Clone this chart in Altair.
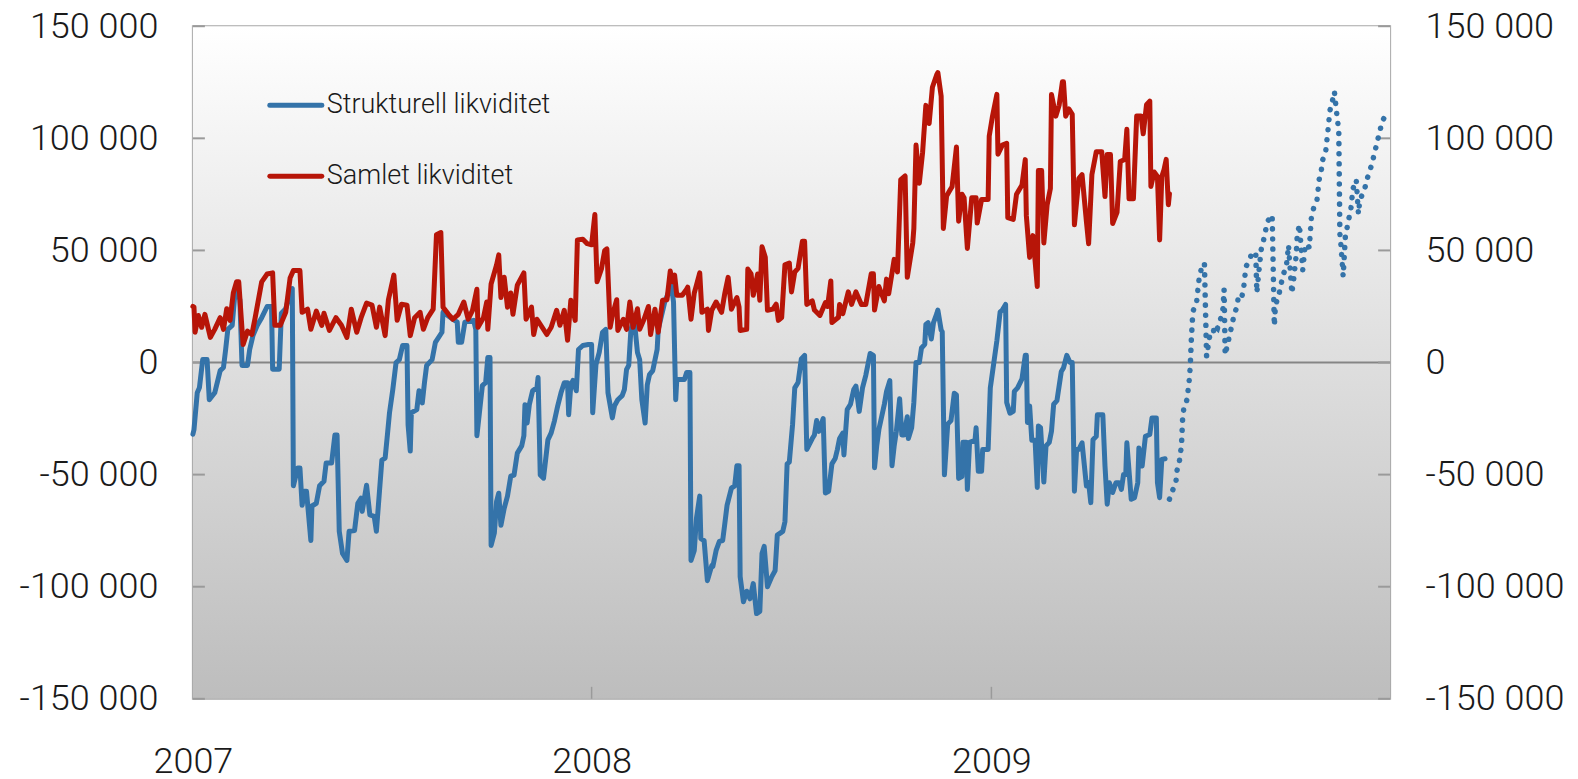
import altair as alt
import pandas as pd

START = pd.Timestamp("2007-01-01")
W, H = 1198, 673

# (day offset from 2007-01-01, value in thousands)
blue_points = [(0,-32),(1,-30),(4,-13.5),(6,-11.2),(9,1.3),(13,1.3),(15,-16.6),(20,-13.5),(25,-3.6),(28,-2.2),(30,5.8),(32,14.8),(36,16.6),(38,28),(40,33),(43,28),(45,-1.3),(50,-1.3),(52,5.8),(55,12),(59,16.6),(63,20),(68,25),(72,25),(73,-3),(79,-3),(81,22),(85,24),(89,31),(91,33),(92,-55),(96,-47),(98,-47),(100,-63.7),(102,-57.4),(104,-57.4),(108,-79.4),(109,-64),(113,-62.8),(116,-55),(120,-53),(122,-44.8),(127,-44.8),(130,-32.3),(132,-32.3),(134,-75.3),(137,-85.2),(141,-88.3),(143,-75.3),(148,-74.9),(151,-62.8),(154,-60.5),(155,-66.4),(159,-54.7),(162,-68),(166,-68.6),(168,-75.3),(173,-43.5),(176,-42.6),(178,-32.7),(180,-22.4),(183,-12.1),(186,0),(189,1.3),(192,7.6),(196,7.6),(197,-27.8),(199,-39.5),(200,-22.4),(205,-21),(207,-12.6),(210,-18),(212,-9),(214,-1.3),(219,1.3),(222,9),(228,13.5),(229,22.4),(238,19.3),(242,18),(243,9),(246,9),(249,18),(257,18.8),(259,14.8),(260,-32.7),(265,-10.3),(268,-9),(270,2.2),(272,2.2),(273,-81.6),(276,-76),(278,-62),(280,-58.3),(282,-72.6),(285,-65),(288,-59.6),(291,-50.7),(294,-50.2),(297,-40.4),(301,-37.2),(303,-32.7),(304,-18.8),(306,-27),(308,-18.8),(311,-12.6),(315,-11.2),(316,-6.7),(318,-50.2),(321,-51.6),(325,-34.5),(328,-31.4),(331,-26),(334,-19.3),(337,-13.5),(340,-9),(343,-9),(344,-23.3),(346,-9.9),(348,-8),(351,-12.6),(353,5.8),(357,7.6),(362,8),(365,8),(366,-22.4),(369,-0.9),(372,4.5),(375,13.5),(378,14.8),(380,-13.5),(384,-24.7),(386,-19.3),(389,-16.6),(393,-14.8),(395,-12.1),(397,-3.1),(399,-1.3),(401,14.8),(404,19.3),(407,4.5),(409,1.3),(411,-16.6),(414,-27),(416,-9.9),(418,-5.4),(421,-3.6),(425,5.8),(426,14.8),(432,27),(438,34.5),(440,27),(442,-16.6),(443,-7.6),(450,-7.6),(452,-4.5),(455,-4.5),(456,-88.3),(459,-83.8),(461,-69.5),(464,-59.6),(465,-78.5),(468,-79.4),(471,-97.3),(475,-90.6),(476,-91),(479,-83.8),(482,-79.8),(485,-79.4),(487,-71.7),(489,-63.7),(493,-56),(496,-55),(498,-46),(500,-46),(501,-95.5),(504,-106.7),(507,-102),(510,-105.4),(513,-98.6),(516,-112),(519,-111),(521,-85.2),(523,-82),(526,-100),(530,-95.5),(533,-92.8),(535,-77),(540,-75.3),(542,-71),(544,-45.2),(546,-44.4),(549,-27.5),(551,-11.3),(554,-8.9),(557,1.6),(560,3.2),(562,-38.8),(567,-33.9),(569,-32.3),(571,-25.9),(573,-30.7),(577,-25),(579,-58.2),(582,-57.4),(585,-45.2),(588,-42.8),(590,-38.8),(592,-33.9),(595,-31.5),(596,-41.2),(599,-21),(602,-18.6),(605,-12.1),(607,-10.5),(610,-21.8),(613,-11.3),(616,-5.7),(620,4),(623,3.2),(624,-46.9),(626,-37.2),(628,-29.9),(633,-18.6),(635,-12.9),(638,-8.1),(640,-46),(642,-37.2),(644,-30.7),(647,-16.2),(649,-32.3),(651,-32.3),(654,-24.2),(655,-33.9),(658,-29.1),(660,-17.8),(662,0),(665,0),(667,6.5),(670,8.1),(671,17),(673,17.8),(676,10.5),(678,17.8),(681,21.8),(682,23.4),(685,14.5),(686,13.7),(688,-50.1),(691,-27.5),(694,-25.9),(697,-13.7),(699,-14.5),(701,-51.7),(704,-50.9),(705,-35.6),(708,-35.6),(709,-56.6),(711,-35.6),(716,-34.7),(717,-29.1),(719,-48.5),(722,-48.5),(723,-38.8),(728,-38.8),(730,-11.3),(733,-0.8),(736,9.7),(739,22.6),(741,23.4),(744,25.9),(745,-17.8),(748,-22.6),(751,-21.8),(752,-12.9),(755,-11.3),(759,-7.3),(762,3.2),(763,3.2),(764,-26.7),(766,-19.4),(768,-34.7),(771,-34.7),(773,-55.7),(774,-28.3),(776,-29.1),(779,-53.3),(781,-37.2),(784,-35.6),(786,-30.7),(788,-18.6),(791,-17),(795,-4),(797,-2.4),(800,3.2),(803,0),(805,0),(807,-57.4),(809,-38.8),(811,-38.8),(814,-35.8),(818,-55.1),(820,-53.6),(822,-62.5),(824,-34.4),(827,-32.9),(828,-23.3),(833,-23.3),(835,-46.2),(837,-63.2),(839,-53.6),(842,-58),(845,-53.6),(848,-53.6),(850,-56.6),(852,-49.9),(854,-49.9),(855,-35.8),(859,-61),(862,-60.3),(865,-53.6),(866,-38.1),(869,-46.2),(872,-32.9),(876,-32.1),(878,-24.7),(882,-24.7),(883,-53.6),(885,-60.3),(887,-43.2),(890,-42.9)]

forecast_points = [(894,-61),(900,-52.9),(901,-48),(903,-44.4),(905,-37),(906,-25.5),(907,-21),(910,-16.6),(911,-12.6),(912,-8.4),(913,-2),(914,10),(915,19),(916,23.4),(919,27.5),(920,32.3),(921,36.7),(923,41.5),(926,44.4),(928,2.7),(931,12.3),(934,12.3),(935,16.7),(938,15.3),(941,19.7),(943,24.1),(944,32.6),(945,3.4),(951,16.3),(953,20.9),(956,25.3),(957,29.3),(960,28.6),(962,33.5),(963,38.2),(964,42.7),(968,46.4),(969,48.9),(973,48.9),(974,31.2),(976,41.2),(978,50.4),(980,54.2),(982,58.9),(984,63.1),(988,65.8),(990,16.4),(991,25.6),(994,29.8),(996,34.5),(998,39),(1001,42.9),(1002,47.4),(1003,52.3),(1006,30.8),(1008,38.2),(1010,47.8),(1011,56.7),(1013,61.6),(1016,41.2),(1018,50.8),(1020,53),(1022,51.2),(1024,65.2),(1026,68.9),(1029,72.3),(1030,76.7),(1031,81.5),(1033,85.6),(1034,90),(1037,94),(1038,98.6),(1039,103),(1040,108),(1041,112.6),(1043,116.3),(1045,120.8),(1047,111.5),(1048,107.4),(1049,103.4),(1050,57.5),(1051,52.3),(1053,38.5),(1055,56),(1058,63.7),(1060,68.1),(1061,73),(1062,77.5),(1065,81.5),(1067,66.3),(1068,71.1),(1071,76),(1073,78),(1075,82),(1079,88),(1081,92),(1083,96),(1085,100),(1087,104),(1089,108),(1092,110)]

red_points = [(0,25),(1,24.7),(2,13.5),(5,21),(8,15.7),(11,21.5),(16,11.2),(20,14.8),(25,20),(28,14.8),(31,24),(34,18.8),(37,31),(40,36),(42,36),(45,14.8),(46,8),(50,14),(54,12.5),(57,20),(60,28),(63,36),(68,39.5),(73,40),(75,16.6),(80,16.6),(85,22.4),(89,37.7),(92,41),(98,41),(100,22.4),(105,23.8),(108,14.8),(113,22.9),(118,16.6),(120,22),(125,14.3),(131,20),(136,16.6),(141,11.2),(145,23.8),(150,13.5),(154,20),(159,26.5),(164,25.6),(168,15.7),(171,24.7),(176,12),(179,28),(184,39),(187,18.8),(191,26),(196,25.6),(199,12),(203,20),(208,22.4),(211,14.8),(215,20),(220,23.8),(223,57),(227,58),(229,24.7),(234,21.5),(238,19.3),(243,21.5),(248,27),(252,19.3),(256,23.3),(260,32.7),(261,15.7),(266,20),(269,27),(270,14.8),(273,35),(278,43.5),(280,48),(282,29),(285,38),(288,24.7),(291,31),(293,21.5),(297,34.5),(303,40),(305,19.3),(310,24.7),(312,12.5),(315,19.3),(324,12.5),(328,15.7),(333,23.3),(336,16.6),(340,23.3),(343,9.9),(346,27.8),(350,18.8),(352,54.7),(357,55),(361,53),(365,52.5),(368,66),(370,36),(374,41.7),(377,50),(379,50.7),(382,15.7),(384,21),(388,28),(389,14.3),(394,19.3),(397,14.8),(400,27),(403,15.7),(407,24),(409,14.8),(413,19.3),(417,25),(419,12.5),(423,23.8),(426,13.5),(430,27.8),(434,28),(437,40.8),(439,36),(441,39),(443,30),(448,30),(452,32.7),(453,33.6),(456,19.3),(459,31),(461,34.5),(464,40),(466,22.4),(471,23.8),(472,14.3),(475,23.3),(479,27),(484,22.4),(487,31),(490,38),(493,23.8),(498,29),(500,24.7),(501,14.3),(507,14.8),(508,41.7),(511,39.5),(513,30),(517,39.5),(519,27.8),(521,51.6),(524,47),(526,23.3),(531,23.8),(534,26),(536,18.8),(539,20),(542,43.6),(546,44.4),(548,31.5),(551,40.4),(554,42),(558,54.1),(560,54.1),(562,25.9),(567,27.5),(569,23.4),(574,21),(579,26.7),(581,25),(584,36.4),(585,17.8),(591,20.2),(592,25.9),(595,21.8),(600,31.5),(603,25.9),(607,31.5),(612,25.9),(616,25.9),(621,39.6),(623,39.6),(624,23.4),(628,33.9),(633,27.5),(635,37.2),(637,30.7),(642,46),(645,40.4),(648,81.6),(652,83.2),(654,38),(659,53.3),(660,59.8),(662,97),(665,80),(668,93.7),(671,114.7),(674,106.6),(677,122.8),(681,128.5),(682,129.3),(685,118.8),(687,59.8),(690,74.3),(693,76.8),(695,78.4),(699,96.1),(701,63),(704,75.1),(706,73.5),(709,50.9),(713,73.5),(717,73.5),(718,62.2),(722,72.7),(728,72.7),(729,101),(732,109.9),(736,119.6),(737,92.9),(741,97),(745,97.8),(746,64.6),(751,63.8),(754,75.1),(759,79.2),(762,90.5),(763,65.4),(766,46.9),(769,56.6),(773,33.9),(774,85.6),(777,85.6),(779,53.3),(782,70.3),(785,77.6),(786,119.6),(790,109.9),(793,114.7),(796,125.2),(797,125.2),(799,109.9),(802,113.1),(805,110.7),(807,61.4),(811,82),(814,83.8),(818,62.8),(820,53),(823,83.8),(827,94),(832,94),(835,74),(837,92.8),(840,92.8),(842,62),(846,67),(849,89.7),(853,90.6),(855,104),(857,73),(861,73),(864,110),(868,110),(870,102),(873,115),(876,116.6),(877,78.5),(880,85),(883,83),(885,54.7),(887,83),(889,86),(891,90.6),(893,70.4),(894,75.3)]

y_ticks = [-150000, -100000, -50000, 0, 50000, 100000, 150000]
label_years = [2007, 2008, 2009]
tick_years = [2008, 2009]
legend_labels = ["Strukturell likviditet", "Samlet likviditet"]

BLUE = "#3473a9"
RED = "#b71508"
FONT = "Roboto"
TXT = "#1a1a1a"
TICK = "#9a9a9a"


def frame(points):
    return pd.DataFrame({
        "i": list(range(len(points))),
        "date": [START + pd.Timedelta(days=d) for d, _ in points],
        "value": [v * 1000 for _, v in points],
    })


def dt(y):
    return alt.DateTime(year=y, month=1, date=1)


y_scale = alt.Scale(domain=[-150000, 150000], nice=False, zero=False)
x_scale = alt.Scale(domain=[dt(2007), dt(2010)], nice=False)

LBL = "(datum.value < 0 ? '-' : '') + replace(format(abs(datum.value), ','), ',', ' ')"

common_axis = dict(labelFontSize=36, labelFont=FONT, labelFontWeight=300, labelColor=TXT,
                   ticks=False, domain=False, grid=False, title=None)

x_axis = alt.Axis(values=[dt(y) for y in label_years], format="%Y", labelPadding=46,
                  labelFlush=False, labelBaseline="top", **common_axis)
y_left = alt.Axis(orient="left", values=y_ticks, labelExpr=LBL, labelPadding=35, **common_axis)
y_right = alt.Axis(orient="right", values=y_ticks, labelExpr=LBL, labelPadding=35, **common_axis)

X = alt.X("date:T", scale=x_scale, axis=x_axis)

one = pd.DataFrame({"a": [0]})

bg = alt.Chart(one).mark_rect(fill={
    "gradient": "linear", "x1": 0, "y1": 0, "x2": 0, "y2": 1,
    "stops": [{"offset": 0, "color": "#ffffff"}, {"offset": 1, "color": "#bdbdbd"}]
}).encode(x=alt.value(0), x2=alt.value(W), y=alt.value(0), y2=alt.value(H))

zero = alt.Chart(pd.DataFrame({"value": [0]})).mark_rule(color="#858585", strokeWidth=2).encode(
    y=alt.Y("value:Q", scale=y_scale, axis=None))

ticks_left = alt.Chart(pd.DataFrame({"value": y_ticks})).mark_rule(color=TICK, strokeWidth=2).encode(
    y=alt.Y("value:Q", scale=y_scale, axis=y_left), x=alt.value(0), x2=alt.value(12))

ticks_right = alt.Chart(pd.DataFrame({"value": y_ticks})).mark_rule(color=TICK, strokeWidth=2).encode(
    y=alt.Y("value:Q", scale=y_scale, axis=y_right), x=alt.value(W - 12), x2=alt.value(W))

ticks_x = alt.Chart(pd.DataFrame({"date": [pd.Timestamp(f"{y}-01-01") for y in tick_years]})).mark_rule(
    color=TICK, strokeWidth=1.5).encode(x=X, y=alt.value(H - 12), y2=alt.value(H))


def line(points, **kw):
    return alt.Chart(frame(points)).mark_line(**kw).encode(
        x=X, y=alt.Y("value:Q", scale=y_scale, axis=None), order="i:Q")


blue = line(blue_points, color=BLUE, strokeWidth=5, strokeJoin="round", strokeCap="round")
forecast = line(forecast_points, color=BLUE, strokeWidth=5.5, strokeDash=[0.1, 10], strokeCap="round")
red = line(red_points, color=RED, strokeWidth=5, strokeJoin="round", strokeCap="round")

leg = []
for label, col, ly in [(legend_labels[0], BLUE, 79), (legend_labels[1], RED, 150)]:
    leg.append(alt.Chart(one).mark_rule(color=col, strokeWidth=5, strokeCap="round").encode(
        x=alt.value(77), x2=alt.value(129), y=alt.value(ly)))
    leg.append(alt.Chart(one).mark_text(text=label, align="left", baseline="middle", font=FONT,
                                        fontSize=27, fontWeight=300, color=TXT).encode(
        x=alt.value(134), y=alt.value(ly)))

chart = alt.layer(bg, zero, ticks_left, ticks_right, ticks_x, blue, forecast, red, *leg).resolve_axis(
    y="independent"
).properties(
    width=W, height=H,
    autosize=alt.AutoSizeParams(type="none"),
    padding={"left": 185, "top": 18, "right": 180, "bottom": 76},
).configure_view(stroke="#a8a8a8", strokeWidth=2)

chart.save("out.html", embed_options={"renderer": "svg", "actions": False})
